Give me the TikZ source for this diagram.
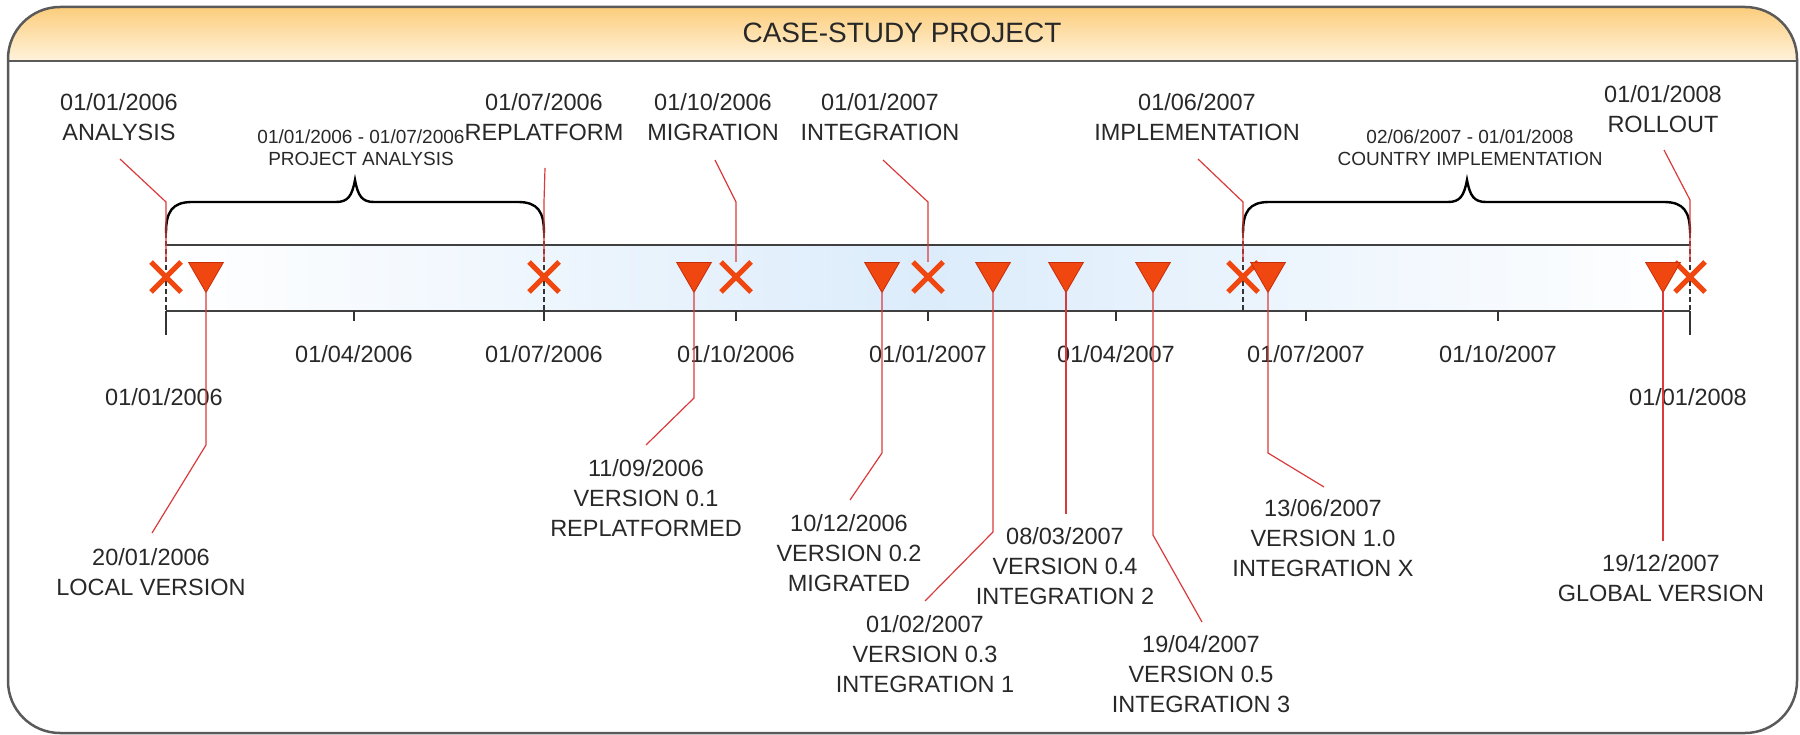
\documentclass[tikz,border=0pt]{standalone}
\usepackage{fontspec}
\setmainfont{Liberation Sans}
\usetikzlibrary{shapes.misc,shapes.geometric}
\definecolor{mkred}{RGB}{240,70,15}
\definecolor{mkedge}{RGB}{200,45,10}
\definecolor{conred}{RGB}{218,58,58}
\definecolor{txt}{RGB}{40,40,40}
\definecolor{hdrtop}{RGB}{252,205,124}
\definecolor{hdrbot}{RGB}{255,243,220}
\definecolor{barblue}{RGB}{220,236,251}
\definecolor{framecol}{RGB}{90,90,90}
\begin{document}
\begin{tikzpicture}[x=1pt,y=-1pt,
  lbl/.style={font=\fontsize{23.5}{30}\selectfont, text=txt, align=center, inner sep=0pt},
  small/.style={font=\fontsize{19}{22}\selectfont, text=txt, align=center, inner sep=0pt},
  ticklbl/.style={font=\fontsize{23.5}{30}\selectfont, text=txt, inner sep=0pt},
  xmark/.style={cross out, draw=mkred, line width=5pt, minimum size=30pt, inner sep=0pt, outer sep=0pt},
  vmark/.style={regular polygon, regular polygon sides=3, shape border rotate=180, fill=mkred, draw=mkedge, line width=0.8pt, minimum size=40pt, inner sep=0pt, outer sep=0pt},
  conn/.style={draw=conred, line width=1.2pt},
  brace/.style={draw=black, line width=2.4pt},
  dashln/.style={draw=black!80, line width=1.5pt, dash pattern=on 5pt off 3pt},
  tickln/.style={draw=black!80, line width=1.8pt},
  barline/.style={draw=black!75, line width=2pt},
  framebox/.style={draw=framecol, line width=2.5pt},
]
\path[use as bounding box] (0,0) rectangle (1800,735);
% frame and header
\begin{scope}
\clip[rounded corners=52pt] (8,7) rectangle (1797,733);
\fill[top color=hdrtop, bottom color=hdrbot] (8,7) rectangle (1797,61);
\end{scope}
\draw[framebox] (8,61) -- (1797,61);
\draw[framebox, rounded corners=52pt] (8,7) rectangle (1797,733);
\node[font=\fontsize{28}{32}\selectfont, text=txt, inner sep=0pt] (title) at (902,33) {CASE-STUDY PROJECT};

% bar
\shade[left color=white, right color=white, middle color=barblue] (166,245) rectangle (1690,311);
\draw[barline] (166,245) -- (1690,245);
\draw[barline] (166,311) -- (1690,311);

% dashed milestone lines
\foreach \xx in {166,544,1243,1690} \draw[dashln] (\xx,233) -- (\xx,311);
% ticks
\foreach \xx in {354,544,736,928,1116,1306,1498} \draw[tickln] (\xx,311) -- (\xx,321);
\draw[tickln] (166,311) -- (166,335);
\draw[tickln] (1690,311) -- (1690,335);

% tick labels
\node[ticklbl] (d1) at (354,354) {01/04/2006};
\node[ticklbl] (d2) at (544,354) {01/07/2006};
\node[ticklbl] (d3) at (736,354) {01/10/2006};
\node[ticklbl] (d4) at (928,354) {01/01/2007};
\node[ticklbl] (d5) at (1116,354) {01/04/2007};
\node[ticklbl] (d6) at (1306,354) {01/07/2007};
\node[ticklbl] (d7) at (1498,354) {01/10/2007};
\node[ticklbl] (d0) at (164,397) {01/01/2006};
\node[ticklbl] (d8) at (1688,397) {01/01/2008};

% braces
\draw[brace] (166,233) .. controls (166,212) and (172,202) .. (192,202) -- (336,202) .. controls (348,202) and (352,196) .. (355,180) .. controls (358,196) and (362,202) .. (374,202) -- (518,202) .. controls (538,202) and (544,212) .. (544,233);
\draw[brace] (1243,233) .. controls (1243,212) and (1249,202) .. (1269,202) -- (1448,202) .. controls (1460,202) and (1464,196) .. (1467,180) .. controls (1470,196) and (1474,202) .. (1486,202) -- (1664,202) .. controls (1684,202) and (1690,212) .. (1690,233);
\node[small] (b1) at (361,147.5) {01/01/2006 - 01/07/2006\\PROJECT ANALYSIS};
\node[small] (b2) at (1470,147.5) {02/06/2007 - 01/01/2008\\COUNTRY IMPLEMENTATION};

% top labels
\node[lbl] (l1) at (119,117.5) {01/01/2006\\ANALYSIS};
\node[lbl] (l2) at (544,117.5) {01/07/2006\\REPLATFORM};
\node[lbl] (l3) at (713,117.5) {01/10/2006\\MIGRATION};
\node[lbl] (l4) at (880,117.5) {01/01/2007\\INTEGRATION};
\node[lbl] (l5) at (1197,117.5) {01/06/2007\\IMPLEMENTATION};
\node[lbl] (l6) at (1663,109.5) {01/01/2008\\ROLLOUT};

% bottom labels
\node[lbl] (v0) at (151,572) {20/01/2006\\LOCAL VERSION};
\node[lbl] (v1) at (646,498) {11/09/2006\\VERSION 0.1\\REPLATFORMED};
\node[lbl] (v2) at (849,553) {10/12/2006\\VERSION 0.2\\MIGRATED};
\node[lbl] (v3) at (925,654.5) {01/02/2007\\VERSION 0.3\\INTEGRATION 1};
\node[lbl] (v4) at (1065,566.5) {08/03/2007\\VERSION 0.4\\INTEGRATION 2};
\node[lbl] (v5) at (1201,674) {19/04/2007\\VERSION 0.5\\INTEGRATION 3};
\node[lbl] (v6) at (1323,538) {13/06/2007\\VERSION 1.0\\INTEGRATION X};
\node[lbl] (v7) at (1661,578) {19/12/2007\\GLOBAL VERSION};

% markers
\node[xmark] (x0) at (166,277) {};
\node[xmark] (x1) at (544,277) {};
\node[xmark] (x2) at (736,277) {};
\node[xmark] (x3) at (928,277) {};
\node[xmark] (x4) at (1243,277) {};
\node[xmark] (x5) at (1690,277) {};
\node[vmark] (t0) at (206,272.5) {};
\node[vmark] (t1) at (694,272.5) {};
\node[vmark] (t2) at (882,272.5) {};
\node[vmark] (t3) at (993,272.5) {};
\node[vmark] (t4) at (1066,272.5) {};
\node[vmark] (t5) at (1153,272.5) {};
\node[vmark] (t6) at (1268,272.5) {};
\node[vmark] (t7) at (1663,272.5) {};

% connector end points
\coordinate (a1) at (120,159);  \coordinate (k1) at (166,202);
\coordinate (a2) at (545,168);  \coordinate (k2) at (544,202);
\coordinate (a3) at (715,160);  \coordinate (k3) at (736,202);
\coordinate (a4) at (883,160);  \coordinate (k4) at (928,202);
\coordinate (a5) at (1198,159); \coordinate (k5) at (1243,202);
\coordinate (a6) at (1664,150); \coordinate (k6) at (1690,200);
\coordinate (m0) at (206,445);  \coordinate (e0) at (152,533);
\coordinate (m1) at (694,398);  \coordinate (e1) at (646,445);
\coordinate (m2) at (882,453);  \coordinate (e2) at (850,500);
\coordinate (m3) at (993,532);  \coordinate (e3) at (925,601);
\coordinate (e4) at (1066,514);
\coordinate (m5) at (1153,535); \coordinate (e5) at (1202,622);
\coordinate (m6) at (1268,453); \coordinate (e6) at (1324,487);
\coordinate (e7) at (1663,541);

% connectors
\draw[conn] (a1) -- (k1) -- (x0.north);
\draw[conn] (a2) -- (k2) -- (x1.north);
\draw[conn] (a3) -- (k3) -- (x2.north);
\draw[conn] (a4) -- (k4) -- (x3.north);
\draw[conn] (a5) -- (k5) -- (x4.north);
\draw[conn] (a6) -- (k6) -- (x5.north);
\draw[conn] (t0.south) -- (m0) -- (e0);
\draw[conn] (t1.south) -- (m1) -- (e1);
\draw[conn] (t2.south) -- (m2) -- (e2);
\draw[conn] (t3.south) -- (m3) -- (e3);
\draw[conn] (t4.south) -- (e4);
\draw[conn] (t5.south) -- (m5) -- (e5);
\draw[conn] (t6.south) -- (m6) -- (e6);
\draw[conn] (t7.south) -- (e7);
\end{tikzpicture}
\end{document}
